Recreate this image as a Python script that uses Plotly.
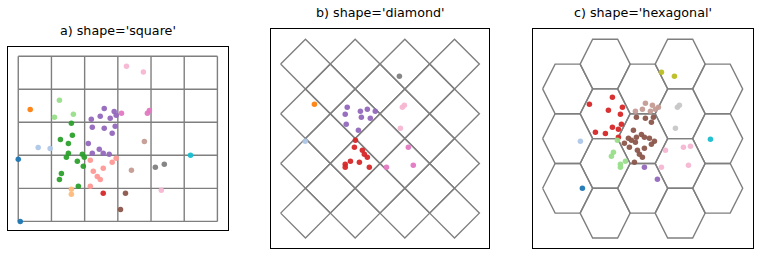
import plotly.graph_objects as go

# tab20 palette
TAB20 = ["#1f77b4", "#aec7e8", "#ff7f0e", "#ffbb78", "#2ca02c", "#98df8a",
         "#d62728", "#ff9896", "#9467bd", "#c5b0d5", "#8c564b", "#c49c94",
         "#e377c2", "#f7b6d2", "#7f7f7f", "#c7c7c7", "#bcbd22", "#dbdb8d",
         "#17becf", "#9edae5"]

titles = ["a) shape='square'", "b) shape='diamond'", "c) shape='hexagonal'"]

# ---- grid definitions ----
square_cols, square_rows = 6, 5
diamond_rows = 7            # rows of diamonds, alternating 4 and 3 cells
hex_cols = 5                # columns of hexagons, alternating 3 and 4 cells

# ---- panel a: points ----
sq_x = [3.26, 3.77, 4.31, 0.36, 1.24, 1.66, 1.09,
        2.59, 2.89, 2.95, 2.47, 2.77, 2.20, 2.23, 2.59, 2.92, 2.83, 2.11, 2.44, 2.23, 2.56, 2.74,
        3.11, 3.95, 3.89,
        1.60, 1.63, 1.27, 1.51, 1.51, 1.45, 1.93, 1.99, 1.78, 1.96, 1.30, 1.24, 1.81,
        0.60, 0.96, 0.00, 0.06, 5.19,
        2.17, 2.95, 2.83, 2.56, 2.26, 2.38, 2.47, 2.17,
        3.80, 3.41, 4.13, 4.40, 1.60, 1.60, 2.56, 3.23, 3.08]
sq_y = [4.70, 4.52, 0.94, 3.39, 3.67, 3.24, 3.15,
        3.42, 3.33, 3.21, 3.18, 3.12, 3.09, 2.85, 2.82, 2.88, 2.67, 2.36, 2.18, 2.06, 2.06, 2.03,
        3.27, 3.36, 3.27,
        2.97, 2.61, 2.48, 2.36, 2.06, 1.94, 2.03, 1.94, 1.82, 1.67, 1.45, 1.27, 1.06,
        2.24, 2.21, 1.88, 0.00, 2.00,
        1.85, 1.91, 1.79, 1.61, 1.52, 1.36, 1.27, 1.06,
        2.42, 1.55, 1.64, 1.73, 0.97, 0.82, 0.85, 0.85, 0.36]
sq_c = [13, 13, 13, 2, 5, 5, 5,
        8, 8, 8, 8, 8, 8, 8, 8, 8, 8, 8, 8, 8, 8, 8,
        12, 12, 12,
        4, 4, 4, 4, 4, 4, 4, 4, 4, 4, 4, 4, 4,
        1, 1, 0, 0, 18,
        7, 7, 7, 7, 7, 7, 7, 7,
        11, 11, 14, 14, 3, 3, 6, 10, 10]

# ---- panel b: points ----
dm_x = [4.78, 1.36, 4.98, 4.90, 4.82,
        2.68, 2.60, 3.21, 3.49, 3.81, 3.25, 3.61, 2.64, 3.13,
        0.99,
        3.01, 2.97, 3.29, 3.37, 3.49, 2.81, 3.17, 2.60, 2.60, 3.57,
        5.14, 4.26, 5.34]
dm_y = [6.51, 5.38, 5.34, 5.26, 4.42,
        5.26, 4.98, 5.10, 5.18, 5.10, 4.86, 4.82, 4.58, 4.34,
        3.89,
        3.93, 3.65, 3.53, 3.37, 3.25, 3.09, 3.05, 2.97, 2.85, 2.85,
        3.65, 2.85, 2.93]
dm_c = [14, 2, 13, 13, 13,
        8, 8, 8, 8, 8, 8, 8, 8, 8,
        1,
        6, 6, 6, 6, 6, 6, 6, 6, 6, 6,
        12, 12, 12]

# ---- panel c: points ----
hx_x = [4.75, 5.27,
        4.11, 4.39, 3.99, 3.71, 4.31, 4.51, 4.63,
        5.39, 5.47, 5.31,
        2.79, 1.87, 2.63, 3.19, 3.11, 3.15, 2.79, 3.03, 2.11, 2.51, 3.03,
        3.75, 4.11, 4.43, 4.35, 3.63, 3.95, 4.07, 4.27, 4.47, 3.43, 3.55, 3.75, 3.27, 3.71,
        4.35, 3.47, 3.79, 4.07, 3.87, 3.99, 3.67,
        1.51,
        2.99, 2.83, 2.75, 3.31, 3.11, 3.11,
        6.71,
        4.91, 5.63, 5.91, 4.75, 5.83,
        4.07, 4.59,
        1.59]
hx_y = [6.67, 6.51,
        5.42, 5.34, 5.18, 5.10, 5.10, 5.18, 5.26,
        5.26, 5.34, 4.42,
        5.66, 5.38, 5.14, 5.26, 4.98, 4.58, 4.46, 4.38, 4.26, 4.21, 4.05,
        4.86, 4.82, 4.86, 4.66, 4.34, 4.17, 4.05, 4.01, 3.89, 4.01, 3.93, 4.05, 3.81, 3.85,
        3.77, 3.65, 3.53, 3.61, 3.37, 3.25, 3.05,
        3.89,
        3.93, 3.45, 3.29, 3.09, 2.97, 2.85,
        3.97,
        3.53, 3.65, 3.69, 2.85, 2.93,
        2.85, 2.36,
        2.00]
hx_c = [16, 16,
        11, 11, 11, 11, 11, 11, 11,
        15, 15, 15,
        6, 6, 6, 6, 6, 6, 6, 6, 6, 6, 6,
        10, 10, 10, 10, 10, 10, 10, 10, 10, 10, 10, 10, 10, 10,
        10, 10, 10, 10, 10, 10, 10,
        1,
        5, 5, 5, 5, 5, 5,
        18,
        13, 13, 13, 13, 13,
        8, 8,
        0]

W, H = 760, 256
GRID_COLOR = "#7f7f7f"
GRID_W = 1.4

# frames in pixels: (left, right, top, bottom)
frames = [(8.3, 227.7, 47.3, 230.3), (271.3, 489.3, 29.3, 248.3), (533.3, 752.7, 29.3, 248.3)]
ranges = [((-0.30, 6.31), (-0.27, 5.27)),
          ((-0.376, 8.40), (-0.416, 8.40)),
          ((-0.373, 8.40), (-0.416, 8.40))]


def square_grid():
    xs, ys = [], []
    for i in range(square_cols + 1):
        xs += [i, i, None]
        ys += [0, square_rows, None]
    for j in range(square_rows + 1):
        xs += [0, square_cols, None]
        ys += [j, j, None]
    return xs, ys


def diamond_grid():
    xs, ys = [], []
    for r in range(diamond_rows):
        cy = r + 1
        cxs = [1, 3, 5, 7] if r % 2 == 0 else [2, 4, 6]
        for cx in cxs:
            xs += [cx - 1, cx, cx + 1, cx, cx - 1, None]
            ys += [cy, cy + 1, cy, cy - 1, cy, None]
    return xs, ys


def hex_grid():
    xs, ys = [], []
    for k in range(hex_cols):
        cx = 1 + 1.5 * k
        cys = [2, 4, 6] if k % 2 == 0 else [1, 3, 5, 7]
        for cy in cys:
            xs += [cx - 1, cx - 0.5, cx + 0.5, cx + 1, cx + 0.5, cx - 0.5, cx - 1, None]
            ys += [cy, cy + 1, cy + 1, cy, cy - 1, cy - 1, cy, None]
    return xs, ys


fig = go.Figure()
grids = [square_grid(), diamond_grid(), hex_grid()]
pts = [(sq_x, sq_y, sq_c), (dm_x, dm_y, dm_c), (hx_x, hx_y, hx_c)]

for i in range(3):
    xa = "x" if i == 0 else f"x{i+1}"
    ya = "y" if i == 0 else f"y{i+1}"
    gx, gy = grids[i]
    fig.add_trace(go.Scatter(x=gx, y=gy, mode="lines", xaxis=xa, yaxis=ya,
                             line=dict(color=GRID_COLOR, width=GRID_W),
                             hoverinfo="skip", showlegend=False))
    px_, py_, pc_ = pts[i]
    fig.add_trace(go.Scatter(x=px_, y=py_, mode="markers", xaxis=xa, yaxis=ya,
                             marker=dict(size=5.5, color=[TAB20[c] for c in pc_],
                                         opacity=0.95, line=dict(width=0)),
                             showlegend=False))

layout = dict(width=W, height=H, margin=dict(l=0, r=0, t=0, b=0),
              paper_bgcolor="white", plot_bgcolor="white",
              font=dict(family="DejaVu Sans", size=12.7, color="black"))
annotations = []
for i, (l, r, t, b) in enumerate(frames):
    sfx = "" if i == 0 else str(i + 1)
    (x0, x1), (y0, y1) = ranges[i]
    ax = dict(domain=[l / W, r / W], range=[x0, x1], showgrid=False, zeroline=False,
              showticklabels=False, ticks="", showline=True, mirror=True,
              linecolor="black", linewidth=1, fixedrange=True)
    ay = dict(domain=[1 - b / H, 1 - t / H], range=[y0, y1], showgrid=False, zeroline=False,
              showticklabels=False, ticks="", showline=True, mirror=True,
              linecolor="black", linewidth=1, fixedrange=True)
    if i > 0:
        ax["anchor"] = "y" + sfx
        ay["anchor"] = "x" + sfx
    layout["xaxis" + sfx] = ax
    layout["yaxis" + sfx] = ay
    annotations.append(dict(text=titles[i], x=(l + r) / 2 / W, y=1 - (t - 16.5) / H,
                            xref="paper", yref="paper", xanchor="center", yanchor="middle",
                            showarrow=False, font=dict(size=12.7, color="black")))
layout["annotations"] = annotations
fig.update_layout(**layout)
fig.write_html("out.html")
